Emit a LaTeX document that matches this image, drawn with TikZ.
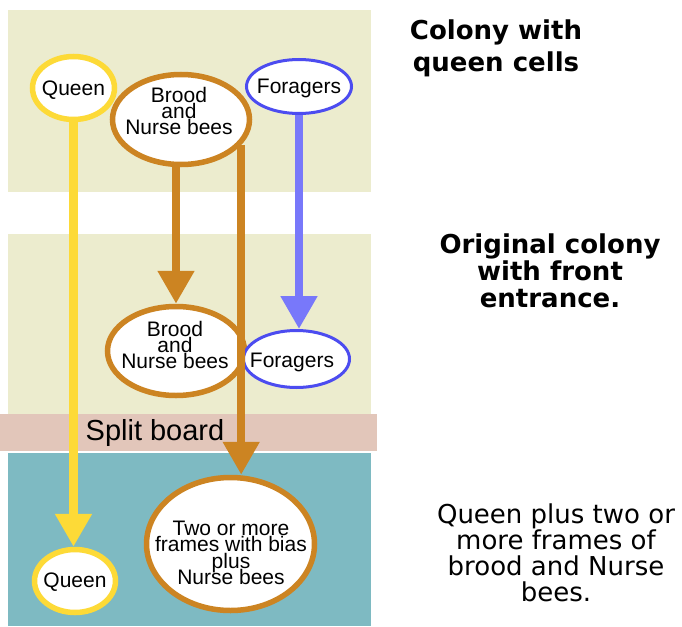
\documentclass[tikz,border=0pt]{standalone}
\usepackage{fontspec}
\setmainfont{Liberation Sans}
\newfontfamily\dejavu{DejaVu Sans}
\usepackage{tikz}
\usetikzlibrary{arrows.meta, shapes.geometric}
\definecolor{Beige}    {RGB}{236,236,206}
\definecolor{Board}    {RGB}{226,198,186}
\definecolor{Teal}     {RGB}{126,186,194}
\definecolor{Yellow}   {RGB}{253,218,55}
\definecolor{Orange}   {RGB}{204,132,34}
\definecolor{Blue}     {RGB}{76, 76, 240}
\definecolor{BlueArrow}{RGB}{120,120,250}
\newcommand\tightskip{\lineskiplimit -20pt\relax}

\begin{document}
\begin{tikzpicture}[x=1pt,y=-1pt,
    bee/.style={ellipse,fill=white,inner sep=0pt,line width=5.5pt},
    beetxt/.style={align=center,font=\fontsize{21}{16.3}\selectfont\tightskip},
    flow/.style={line width=8pt,-{Triangle[width=35pt,length=33pt]}}]
  \useasboundingbox (0,0) rectangle (682,626);
  % boxes of the hive
  \foreach \ya/\yb in {10/192,234/416}
    \fill[Beige] (8,\ya) rectangle (371,\yb);
  \fill[Board] (0,414) rectangle (377,451);
  \fill[Teal] (8,453) rectangle (371,626);
  \node[font=\fontsize{29}{30}\selectfont] (splitTxt) at (155,433) {Split board};

  % bees
  \node[bee,draw=Yellow,minimum width=82pt,minimum height=63pt] (queenTop) at (73.5,88) {};
  \node[bee,draw=Orange,minimum width=137pt,minimum height=90pt] (broodTop) at (181,119.5) {};
  \node[bee,draw=Blue,line width=3pt,minimum width=105pt,minimum height=54pt] (foragersTop) at (299,86.5) {};
  \node[bee,draw=Orange,minimum width=137pt,minimum height=89pt] (broodMid) at (176,351) {};
  \node[bee,draw=Blue,line width=3pt,minimum width=106pt,minimum height=57pt] (foragersMid) at (296.5,359) {};
  \node[bee,draw=Yellow,minimum width=81pt,minimum height=63pt] (queenBot) at (75,581) {};
  \node[bee,draw=Orange,minimum width=168pt,minimum height=133pt] (twoBot) at (230.5,544) {};

  \node[beetxt] (queenTopTxt) at (73.5,90) {Queen};
  \node[beetxt] (broodTopTxt) at (179,111) {Brood\\and\\Nurse bees};
  \node[beetxt] (foragersTopTxt) at (299,88) {Foragers};
  \node[beetxt] (broodMidTxt) at (175,345) {Brood\\and\\Nurse bees};
  \node[beetxt] (foragersMidTxt) at (292,362) {Foragers};
  \node[beetxt] (queenBotTxt) at (75,582) {Queen};
  \node[beetxt] (twoBotTxt) at (231,553) {Two or more\\frames with bias\\plus\\Nurse bees};

  % moves
  \draw[flow,Yellow,line width=9pt] (queenTop.south) -- (queenTop.south |- queenBot.north);
  \draw[flow,Orange] (broodMid.north |- broodTop.south) -- (broodMid.north);
  \draw[flow,Orange] (broodTop.-23) -- (broodTop.-23 |- twoBot.north);
  \draw[flow,BlueArrow] (foragersTop.south) -- (foragersTop.south |- foragersMid.north);

  % captions
  \node[align=center,font=\dejavu\bfseries\fontsize{26}{32}\selectfont] (colonyCap) at (496,48) {Colony with\\queen cells};
  \node[align=center,font=\dejavu\bfseries\fontsize{26}{27}\selectfont] (originalCap) at (550,271) {Original colony\\with front\\entrance.};
  \node[align=center,font=\dejavu\fontsize{26}{26}\selectfont\tightskip] (newCap) at (556,553) {Queen plus two or\\more frames of\\brood and Nurse\\bees.};
\end{tikzpicture}
\end{document}
